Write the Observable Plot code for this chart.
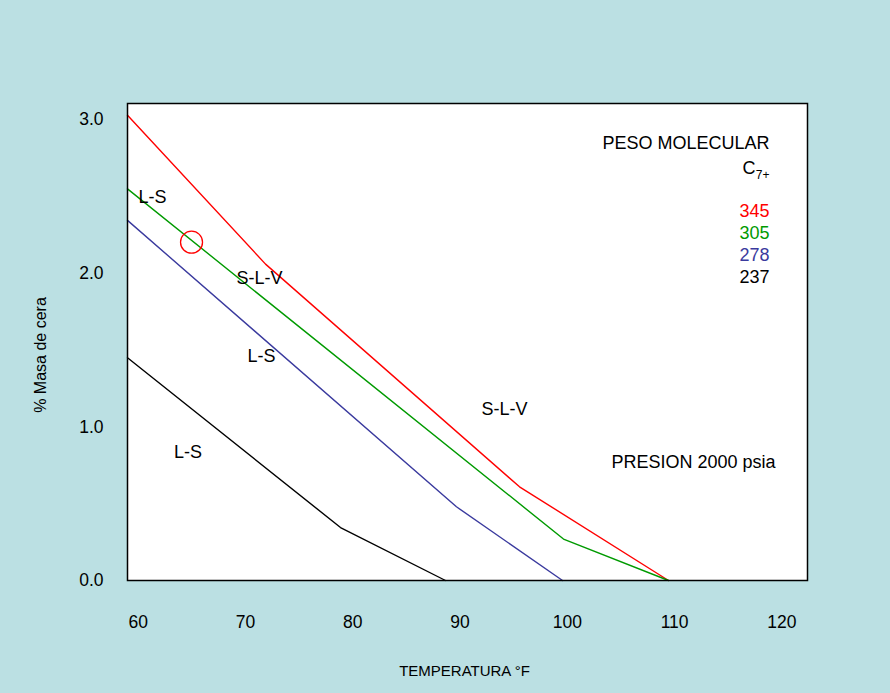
<!DOCTYPE html>
<html>
<head>
<meta charset="utf-8">
<script src="https://cdn.jsdelivr.net/npm/d3@7"></script>
<script src="https://cdn.jsdelivr.net/npm/@observablehq/plot@0.6"></script>
<style>
  html, body { margin: 0; padding: 0; background: #bbe0e3; }
</style>
</head>
<body>
<div id="chart"></div>
<script>
// Series: molecular weight C7+ -> [temperature °F, % mass of wax]
const seriesNames = ["345", "305", "278", "237"];
const seriesColors = ["#ff0000", "#009a00", "#3a3a9e", "#000000"];
const s345 = [[58.99, 3.03], [71.86, 2.06], [95.54, 0.61], [109.43, 0]];
const s305 = [[58.99, 2.55], [99.64, 0.27], [109.43, 0]];
const s278 = [[58.99, 2.345], [89.66, 0.48], [99.55, 0]];
const s237 = [[58.99, 1.45], [78.85, 0.345], [88.64, 0]];

// Axis ticks
const xTicks = [60, 70, 80, 90, 100, 110, 120];
const yTicks = [0, 1, 2, 3];
const xDomain = [58.99, 122.39];
const yDomain = [0, 3.106];

// Region annotations
const regionText = ["L-S", "S-L-V", "L-S", "S-L-V", "L-S"];
const regionX = [61.32, 71.30, 71.49, 94.14, 64.63];
const regionY = [2.494, 1.967, 1.459, 1.114, 0.834];

// Marked point (circle)
const markX = [64.96];
const markY = [2.203];

// Legend block
const legendTitle = "PESO MOLECULAR";
const legendX = 118.85;
const legendTitleY = 2.846;
const legendCY = 2.683;
const legendValueY = [2.403, 2.26, 2.117, 1.973];
const pressureText = "PRESION 2000 psia";
const pressureX = 111.76;
const pressureY = 0.768;

const xLabel = "TEMPERATURA °F";
const yLabel = "% Masa de cera";

const allSeries = [s345, s305, s278, s237];
const lineRows = allSeries.flatMap((s, i) =>
  s.map(([x, y]) => ({ x, y, name: seriesNames[i] }))
);
const legendRows = seriesNames.map((n, i) => ({ n, y: legendValueY[i], c: seriesColors[i] }));
const regionRows = regionText.map((t, i) => ({ t, x: regionX[i], y: regionY[i] }));

const font = "'Liberation Sans', Arial, Helvetica, sans-serif";

const chart = Plot.plot({
  width: 890,
  height: 693,
  marginLeft: 127,
  marginRight: 83,
  marginTop: 103,
  marginBottom: 113,
  style: { background: "#bbe0e3", fontFamily: font, color: "#000" },
  x: { domain: xDomain, type: "linear" },
  y: { domain: yDomain, type: "linear" },
  color: { domain: seriesNames, range: seriesColors },
  marks: [
    Plot.frame({ fill: "white", stroke: "none" }),
    Plot.axisX({ ticks: xTicks, tickSize: 0, tickPadding: 35, fontSize: 17.5, label: null, tickFormat: d3.format("d") }),
    Plot.axisY({ ticks: yTicks, tickSize: 0, tickPadding: 24, fontSize: 17.5, label: null, tickFormat: d3.format(".1f") }),
    Plot.line(lineRows, { x: "x", y: "y", z: "name", stroke: "name", strokeWidth: 1.4 }),
    Plot.dot(markX.map((x, i) => ({ x, y: markY[i] })), { x: "x", y: "y", r: 11, stroke: "#ff0000", fill: "none", strokeWidth: 1.3 }),
    Plot.text(regionRows, { x: "x", y: "y", text: "t", fontSize: 18, fill: "#000" }),
    Plot.text([legendTitle], { x: () => legendX, y: () => legendTitleY, textAnchor: "end", fontSize: 18, fill: "#000" }),
    Plot.text(["C"], { x: () => legendX, y: () => legendCY, textAnchor: "end", dx: -14, fontSize: 18, fill: "#000" }),
    Plot.text(["7+"], { x: () => legendX, y: () => legendCY, textAnchor: "end", dy: 7, fontSize: 12, fill: "#000" }),
    Plot.text(legendRows, { x: () => legendX, y: "y", text: "n", fill: "c", textAnchor: "end", fontSize: 18 }),
    Plot.text([pressureText], { x: () => pressureX, y: () => pressureY, fontSize: 18, fill: "#000" }),
    Plot.frame({ stroke: "#000", strokeWidth: 1.5 }),
    Plot.text([xLabel], { frameAnchor: "bottom", lineAnchor: "middle", textAnchor: "middle", dy: 91, dx: -3, fontSize: 15, fill: "#000" }),
    Plot.text([yLabel], { frameAnchor: "left", textAnchor: "middle", lineAnchor: "middle", rotate: -90, dx: -87, dy: 13, fontSize: 16, fill: "#000" })
  ]
});
document.getElementById("chart").appendChild(chart);
</script>
</body>
</html>
